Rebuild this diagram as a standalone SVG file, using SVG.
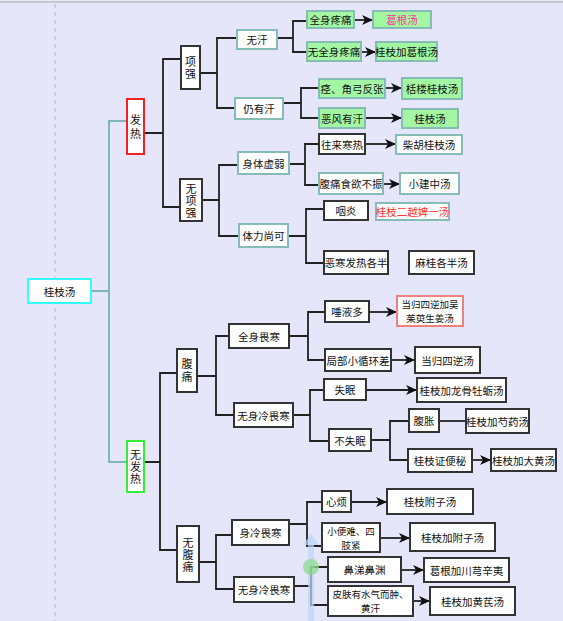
<svg xmlns="http://www.w3.org/2000/svg" width="563" height="621" viewBox="0 0 563 621">
<defs>
<style>
text{font-family:"Noto Sans CJK SC","Noto Sans",sans-serif;font-size:10.5px;fill:#111;text-anchor:middle;dominant-baseline:central}
text.v{writing-mode:vertical-rl;font-size:11px}
text.m{font-size:9.5px}
.b{fill:#fff;stroke:#333;stroke-width:2}
.t{fill:#fff;stroke:#85bdb6;stroke-width:2}
.g{fill:#a3f7a3;stroke:#85bdb6;stroke-width:2}
.c{fill:none;stroke:#222;stroke-width:1.8}
.ct{fill:none;stroke:#7fb7b7;stroke-width:2}
.a{marker-end:url(#ar)}
</style>
<marker id="ar" markerUnits="userSpaceOnUse" markerWidth="12" markerHeight="10" refX="11" refY="5" orient="auto">
<path d="M0,0 L11,5 L0,10 L3,5 Z" fill="#111"/>
</marker>
</defs>
<rect width="563" height="621" fill="#e6e6fb"/>
<line x1="0" y1="2" x2="563" y2="2" stroke="#c8c8c8" stroke-width="2"/>
<line x1="55" y1="4" x2="55" y2="621" stroke="#b8b8c0" stroke-width="1" stroke-dasharray="4,4"/>

<g id="connectors">
<path class="ct" d="M92,291 H109 M127,121 H109 V462 H127"/>
<path class="c" d="M144,133 H163 M181,59 H163 V207 H180"/>
<path class="c" d="M200,73 H217 M237,38 H217 V108 H235"/>
<path class="c" d="M277,38 H293 M307,21 H293 V52 H307"/>
<path class="c a" d="M354,20 H373"/>
<path class="c a" d="M361,52 H376"/>
<path class="c" d="M283,103 H301 M319,88 H301 V118 H319"/>
<path class="c a" d="M385,88 H402"/>
<path class="c a" d="M365,118 H402"/>
<path class="c" d="M202,200 H219 M239,165 H219 V236 H239"/>
<path class="c" d="M289,164 H305 M319,144 H305 V185 H319"/>
<path class="c a" d="M365,144 H396"/>
<path class="c a" d="M383,184 H400"/>
<path class="c" d="M288,236 H306 M324,209 H306 V263 H324"/>
<path class="c" d="M144,462 H160 M177,373 H160 V550 H177"/>
<path class="c" d="M197,376 H216 M229,336 H216 V415 H234"/>
<path class="c" d="M289,336 H308 M325,312 H308 V360 H325"/>
<path class="c a" d="M369,312 H397"/>
<path class="c a" d="M391,360 H415"/>
<path class="c" d="M293,415 H310 M324,390 H310 V441 H328"/>
<path class="c a" d="M366,390 H417"/>
<path class="c" d="M371,440 H390 M409,421 H390 V460 H408"/>
<path class="c" d="M439,421 H466"/>
<path class="c a" d="M472,460 H491"/>
<path class="c" d="M199,562 H216 M232,535 H216 V589 H234"/>
<path class="c" d="M289,524 H307 M322,502 H307 V546 H322"/>
<path class="c a" d="M351,502 H387"/>
<path class="c a" d="M380,538 H410"/>
<path class="c" d="M294,586 H311 M328,567 H311 V605 H328"/>
<path class="c a" d="M401,570 H424"/>
<path class="c a" d="M413,601 H430"/>
</g>

<g id="overlay" opacity="0.9">
<path d="M311,534 L319,545 L314,545 L314,621 L308,621 L308,545 L303,545 Z" fill="#bcd6f7" opacity="0.8"/>
<circle cx="311" cy="567" r="8" fill="#8fdc8f" opacity="0.85"/>
</g>

<g id="root"><rect x="28" y="279" width="63" height="24" fill="#fff" stroke="#33ffff" stroke-width="2"/><text x="59.5" y="291">桂枝汤</text></g>

<g id="fare"><rect x="127" y="99" width="17" height="55" fill="#fff" stroke="#ee2222" stroke-width="2"/><text class="v" x="135.5" y="128" style="letter-spacing:3px">发热</text></g>
<g id="wufare"><rect x="127" y="441" width="17" height="51" fill="#fff" stroke="#33ee33" stroke-width="2"/><text class="v" x="135.5" y="467" style="letter-spacing:1px">无发热</text></g>

<g id="xiangqiang"><rect class="b" x="181" y="46" width="19" height="43"/><text class="v" x="190.5" y="68" style="letter-spacing:1px">项强</text></g>
<g id="wuxiangqiang"><rect class="b" x="180" y="179" width="22" height="42"/><text class="v" x="191" y="201" style="letter-spacing:1px">无项强</text></g>

<g id="wuhan"><rect class="t" x="237" y="30" width="40" height="19"/><text x="257" y="39.5">无汗</text></g>
<g id="rengyouhan"><rect class="t" x="235" y="98" width="48" height="21"/><text x="259" y="108.5">仍有汗</text></g>

<g id="n1"><rect class="g" x="307" y="11" width="47" height="17"/><text x="330.5" y="19.5">全身疼痛</text></g>
<g id="n2"><rect class="g" x="373" y="11" width="58" height="17"/><text x="402" y="19.5" style="fill:#ff3399">葛根汤</text></g>
<g id="n3"><rect class="g" x="307" y="42" width="54" height="19"/><text x="334" y="51.5">无全身疼痛</text></g>
<g id="n4"><rect class="g" x="376" y="42" width="61" height="19"/><text x="406.5" y="51.5">桂枝加葛根汤</text></g>
<g id="n5"><rect class="g" x="319" y="79" width="66" height="19"/><text x="352" y="88.5">痉、角弓反张</text></g>
<g id="n6"><rect class="g" x="402" y="78" width="60" height="21"/><text x="432" y="88.5">栝楼桂枝汤</text></g>
<g id="n7"><rect class="g" x="319" y="108" width="46" height="20"/><text x="342" y="118">恶风有汗</text></g>
<g id="n8"><rect class="g" x="402" y="109" width="56" height="19"/><text x="430" y="118.5">桂枝汤</text></g>

<g id="shentixuruo"><rect class="t" x="238" y="152" width="51" height="22"/><text x="263.5" y="163">身体虚弱</text></g>
<g id="tilishangke"><rect class="t" x="239" y="224" width="49" height="23"/><text x="263.5" y="235.5">体力尚可</text></g>

<g id="n9"><rect class="b" x="319" y="134" width="46" height="20"/><text x="342" y="144">往来寒热</text></g>
<g id="n10"><rect class="t" x="396" y="135" width="66" height="19"/><text x="429" y="144.5">柴胡桂枝汤</text></g>
<g id="n11"><rect class="t" x="319" y="173" width="64" height="21"/><text x="351" y="183.5">腹痛食欲不振</text></g>
<g id="n12"><rect class="t" x="400" y="173" width="59" height="21"/><text x="429.5" y="183.5">小建中汤</text></g>
<g id="n13"><rect class="b" x="324" y="201" width="44" height="19"/><text x="346" y="210.5">咽炎</text></g>
<g id="n14"><rect class="t" x="376" y="203" width="73" height="17"/><text x="412.5" y="211.5" style="fill:#ff3333">桂枝二越婢一汤</text></g>
<g id="n15"><rect class="b" x="324" y="251" width="64" height="23"/><text x="356" y="262.5">恶寒发热各半</text></g>
<g id="n16"><rect class="b" x="409" y="251" width="65" height="23"/><text x="441.5" y="262.5">麻桂各半汤</text></g>

<g id="futong"><rect class="b" x="177" y="349" width="20" height="43"/><text class="v" x="187" y="371" style="letter-spacing:2px">腹痛</text></g>
<g id="wufutong"><rect class="b" x="177" y="526" width="22" height="56"/><text class="v" x="188" y="555" style="letter-spacing:1px">无腹痛</text></g>

<g id="quanshenweihan"><rect class="b" x="229" y="324" width="60" height="24"/><text x="259" y="336">全身畏寒</text></g>
<g id="wushenlengweihan"><rect class="b" x="234" y="403" width="59" height="24"/><text x="263.5" y="415">无身冷畏寒</text></g>

<g id="n17"><rect class="b" x="325" y="301" width="44" height="21"/><text x="347" y="311.5">唾液多</text></g>
<g id="n18"><rect x="397" y="296" width="66" height="30" fill="#fff" stroke="#f08080" stroke-width="2"/><text class="m" x="430" y="304">当归四逆加吴<tspan x="430" dy="14">茱萸生姜汤</tspan></text></g>
<g id="n19"><rect class="b" x="325" y="349" width="66" height="22"/><text x="358" y="360">局部小循环差</text></g>
<g id="n20"><rect class="b" x="415" y="347" width="65" height="26"/><text x="447.5" y="360">当归四逆汤</text></g>
<g id="n21"><rect class="b" x="324" y="379" width="42" height="21"/><text x="345" y="389.5">失眠</text></g>
<g id="n22"><rect class="b" x="417" y="378" width="89" height="24"/><text x="461.5" y="390">桂枝加龙骨牡蛎汤</text></g>
<g id="n23"><rect class="b" x="329" y="429" width="42" height="22"/><text x="350" y="440">不失眠</text></g>
<g id="n24"><rect class="b" x="409" y="409" width="30" height="23"/><text x="424" y="420.5">腹胀</text></g>
<g id="n25"><rect class="b" x="466" y="409" width="63" height="24"/><text x="497.5" y="421">桂枝加芍药汤</text></g>
<g id="n26"><rect class="b" x="408" y="449" width="64" height="23"/><text x="440" y="460.5">桂枝证便秘</text></g>
<g id="n27"><rect class="b" x="491" y="449" width="65" height="22"/><text x="523.5" y="460">桂枝加大黄汤</text></g>

<g id="shenlengweihan"><rect class="b" x="232" y="520" width="57" height="25"/><text x="260.5" y="532.5">身冷畏寒</text></g>
<g id="wushenlengweihan2"><rect class="b" x="234" y="577" width="60" height="25"/><text x="264" y="589.5">无身冷畏寒</text></g>

<g id="n28"><rect class="b" x="322" y="491" width="29" height="21"/><text x="336.5" y="501.5">心烦</text></g>
<g id="n29"><rect class="b" x="387" y="489" width="86" height="25"/><text x="430" y="501.5">桂枝附子汤</text></g>
<g id="n30"><rect class="b" x="322" y="523" width="58" height="29"/><text class="m" x="351" y="530.5">小便难、四<tspan x="351" dy="14">肢紧</tspan></text></g>
<g id="n31"><rect class="b" x="410" y="523" width="85" height="28"/><text x="452.5" y="537">桂枝加附子汤</text></g>
<g id="n32"><rect class="b" x="328" y="557" width="73" height="25"/><text x="364.5" y="569.5">鼻涕鼻渊</text></g>
<g id="n33"><rect class="b" x="424" y="558" width="85" height="24"/><text x="466.5" y="570">葛根加川芎辛夷</text></g>
<g id="n34"><rect class="b" x="328" y="586" width="85" height="30"/><text class="m" x="370.5" y="594">皮肤有水气而肿、<tspan x="370.5" dy="14">黄汗</tspan></text></g>
<g id="n35"><rect class="b" x="430" y="587" width="85" height="28"/><text x="472.5" y="601">桂枝加黄芪汤</text></g>
</svg>
